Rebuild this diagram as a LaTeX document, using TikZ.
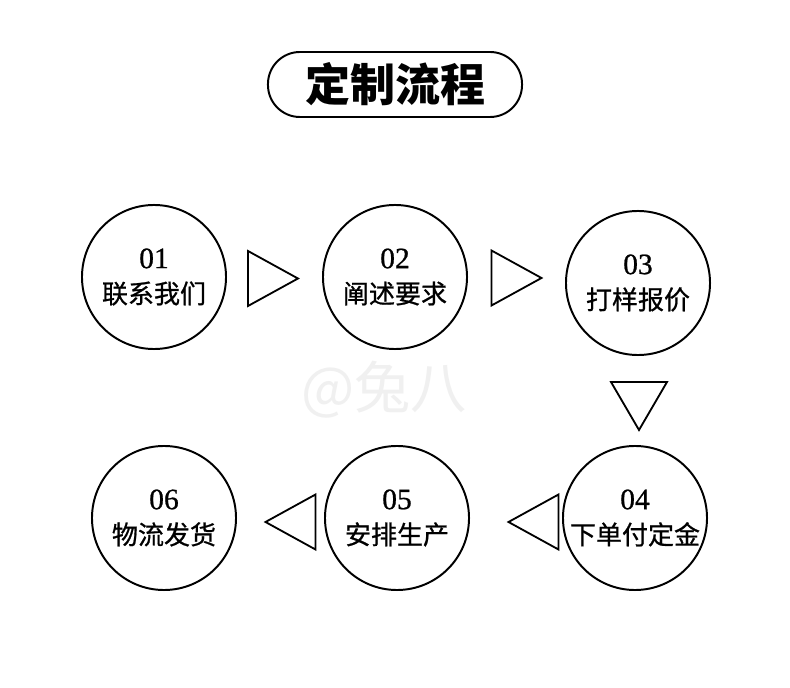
\documentclass[tikz,border=0pt]{standalone}
\usepackage{fontspec}
\setmainfont{Liberation Serif}
\newfontfamily\cjk{Noto Sans CJK SC}
\newfontfamily\cjkbody[FakeBold=0.8]{Noto Sans CJK SC}
\newfontfamily\numfont[FakeBold=0.8]{Liberation Serif}

\tikzset{
  flowcircle/.style={draw=black,circle,line width=1.4pt,minimum size=3.6cm,inner sep=0pt,align=center,font=\cjkbody\fontsize{18.5}{25}\selectfont},
  flowtri/.style={draw=black,line width=1.3pt,line join=miter},
  tri right/.pic={\draw[flowtri] (-25,-27.5) -- (-25,27.5) -- (25,0) -- cycle;},
  tri left/.pic={\draw[flowtri] (25,-27.5) -- (25,27.5) -- (-25,0) -- cycle;},
  tri down/.pic={\draw[flowtri] (-28,-24) -- (28,-24) -- (0,24) -- cycle;},
}
\newcommand{\stepnum}[1]{{\numfont\fontsize{21}{25}\selectfont #1}}

\begin{document}
\begin{tikzpicture}[x=0.025cm,y=-0.025cm]
\useasboundingbox[fill=white] (0,0) rectangle (790,688);
% watermark
\node[text=black!6,font=\cjk\fontsize{40}{40}\selectfont,inner sep=0pt] (mark) at (384,390) {@兔八};
% title
\node[draw=black,line width=1.4pt,rounded corners=0.8cm,minimum width=6.35cm,minimum height=1.625cm,inner sep=0pt,font=\cjk\bfseries\fontsize{32}{36}\selectfont] (title) at (395,84.5) {定制流程};
% steps
\node[flowcircle] (c1) at (154,277) {\stepnum{01}\\联系我们};
\node[flowcircle] (c2) at (395,277) {\stepnum{02}\\阐述要求};
\node[flowcircle] (c3) at (638,283) {\stepnum{03}\\打样报价};
\node[flowcircle] (c4) at (635,518) {\stepnum{04}\\下单付定金};
\node[flowcircle] (c5) at (397,518) {\stepnum{05}\\安排生产};
\node[flowcircle] (c6) at (164,518) {\stepnum{06}\\物流发货};
% arrows
\pic at (273,278.5) {tri right};
\pic at (516.5,278) {tri right};
\pic at (639,406) {tri down};
\pic at (533.5,522) {tri left};
\pic at (290.5,522) {tri left};
\end{tikzpicture}
\end{document}
